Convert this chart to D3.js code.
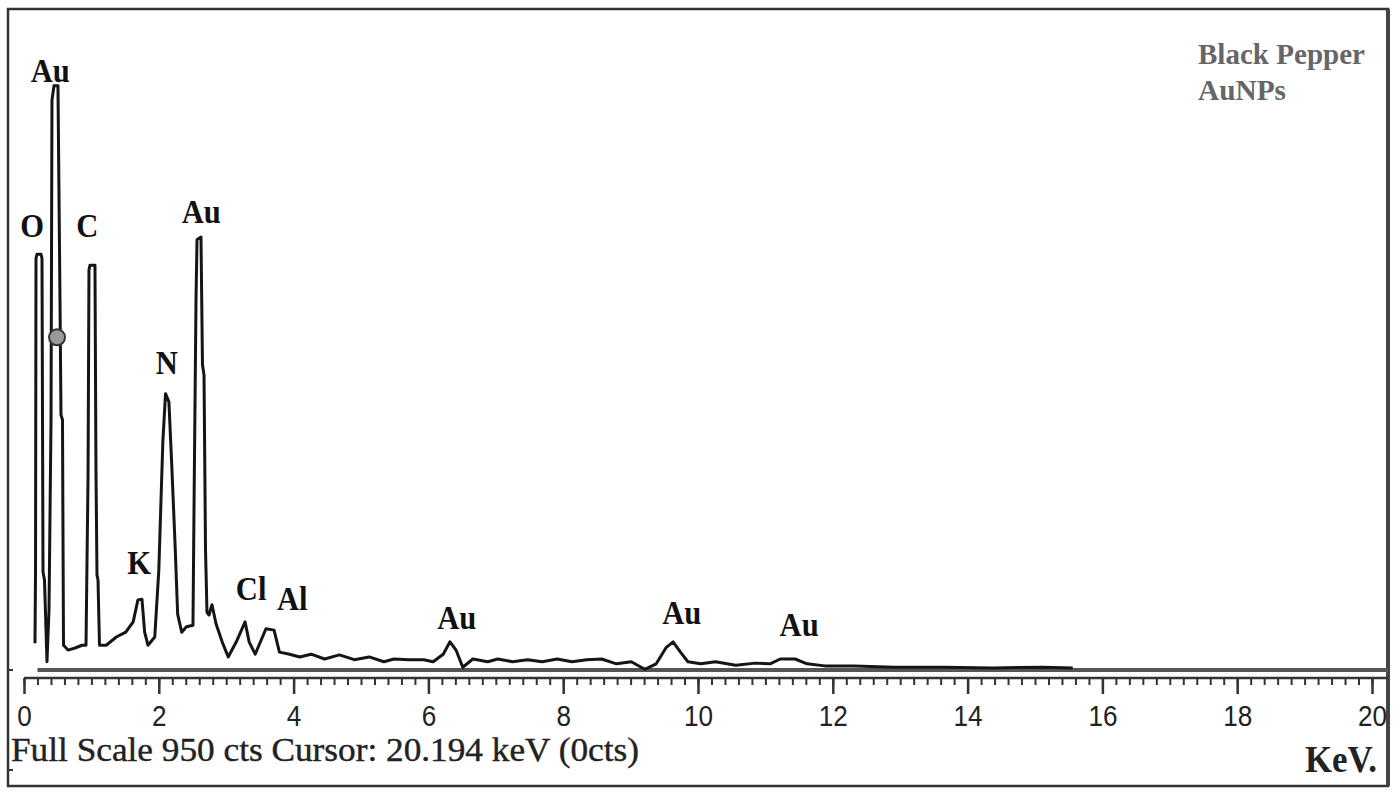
<!DOCTYPE html>
<html lang="en">
<head>
<meta charset="UTF-8">
<title>EDX spectrum - Black Pepper AuNPs</title>
<script src="https://cdn.jsdelivr.net/npm/d3@7"></script>
<style>
    body { margin: 0; background: #fff; }
    svg { display: block; }
    .peak { font-family: "Liberation Serif", "DejaVu Serif", serif; font-weight: bold; fill: #111; }
    .tick text { font-family: "Liberation Sans", Arial, sans-serif; fill: #222; }
</style>
</head>
<body>
<svg width="1400" height="794"></svg>
<script>
    // spectrum: energy (keV) and counts
    var energy = [0.163, 0.171, 0.178, 0.193, 0.252, 0.267, 0.282, 0.304, 0.341,
        0.371, 0.401, 0.415, 0.445, 0.504, 0.534, 0.549, 0.571, 0.586,
        0.653, 0.757, 0.861, 0.92,
        0.935, 0.95, 0.964, 0.979, 1.053, 1.068, 1.083, 1.098, 1.12,
        1.22, 1.37, 1.51, 1.62, 1.69, 1.75, 1.79, 1.84, 1.94,
        2.00, 2.06, 2.10, 2.15, 2.19, 2.24, 2.28, 2.34, 2.41,
        2.507, 2.522, 2.552, 2.567, 2.626, 2.648, 2.671, 2.693, 2.715, 2.745, 2.789,
        2.85, 2.94, 3.03, 3.15, 3.28, 3.34, 3.43, 3.59,
        3.71, 3.79, 3.94, 4.09, 4.26, 4.46, 4.68, 4.90, 5.12, 5.34,
        5.49, 5.71, 5.93, 6.07, 6.22, 6.32, 6.41, 6.51, 6.66, 6.88,
        7.03, 7.25, 7.47, 7.69, 7.91, 8.13, 8.35, 8.57, 8.79, 9.01,
        9.21, 9.38, 9.53, 9.63, 9.74, 9.85, 10.04, 10.26, 10.56, 10.85,
        11.07, 11.22, 11.44, 11.62, 11.88, 12.32, 12.91, 13.65, 14.38, 15.12,
        15.56];
    var counts = [39, 143, 599, 605, 605, 599, 143, 131, 12,
        87, 364, 829, 850, 850, 538, 371, 364, 36,
        29, 32, 36, 36,
        160, 279, 582, 589, 589, 291, 138, 131, 36,
        36, 48, 55, 70, 102, 103, 55, 36, 48,
        145, 332, 402, 390, 303, 186, 81, 55, 63,
        65, 230, 538, 626, 630, 444, 429, 175, 84, 80, 95,
        67, 41, 19, 41, 70, 41, 23, 60,
        58, 26, 23, 19, 23, 16, 22, 15, 19, 12,
        16, 15, 15, 12, 23, 41, 29, 4, 16, 12,
        16, 12, 15, 12, 16, 12, 15, 16, 9, 12,
        1, 9, 33, 41, 26, 12, 9, 12, 7, 10,
        9, 16, 16, 9, 6, 6, 4, 4, 3, 4,
        3];

    // element labels
    var peakNames = ["O", "Au", "C", "K", "N", "Au", "Cl", "Al", "Au", "Au", "Au"];
    var peakKeV = [0.12, 0.39, 0.94, 1.71, 2.12, 2.63, 3.37, 3.98, 6.42, 9.76, 11.5];
    var peakCts = [630, 855, 630, 140, 430, 650, 102, 88, 60, 67, 50];

    var tickValues = [0, 2, 4, 6, 8, 10, 12, 14, 16, 18, 20];
    var sampleName = ["Black Pepper", "AuNPs"];
    var footer = "Full Scale 950 cts Cursor: 20.194 keV (0cts)";

    var svg = d3.select("svg");

    var x = d3.scaleLinear().domain([0, 20]).range([24, 1372]);
    var y = d3.scaleLinear().domain([0, 950]).range([670, 17]);

    // frame
    svg.append("rect")
        .attr("x", 8).attr("y", 9)
        .attr("width", 1380).attr("height", 777)
        .attr("fill", "none")
        .attr("stroke", "#333")
        .attr("stroke-width", 2.5);
    svg.append("line")
        .attr("x1", 1388).attr("x2", 1388)
        .attr("y1", 9).attr("y2", 786)
        .attr("stroke", "#444").attr("stroke-width", 4);
    // small marks on the left edge
    [670, 770].forEach(function (v) {
        svg.append("line")
            .attr("x1", 8).attr("x2", 13)
            .attr("y1", v).attr("y2", v)
            .attr("stroke", "#333").attr("stroke-width", 2);
    });

    // zero line
    svg.append("line")
        .attr("x1", x(0.2)).attr("x2", 1388)
        .attr("y1", y(0)).attr("y2", y(0))
        .attr("stroke", "#555").attr("stroke-width", 4);

    // axis
    var axisG = svg.append("g").attr("transform", "translate(0,678)");
    axisG.call(d3.axisBottom(x).tickValues(d3.range(0, 20.01, 0.2)).tickSize(7).tickFormat(""))
        .call(function (g) { g.select(".domain").remove(); })
        .selectAll("line").attr("stroke", "#333").attr("stroke-width", 2);
    var major = svg.append("g").attr("transform", "translate(0,678)")
        .call(d3.axisBottom(x).tickValues(tickValues).tickSize(16).tickPadding(11).tickSizeOuter(0));
    major.select(".domain").attr("d", "M" + x(0) + ",0H1388").attr("stroke", "#333").attr("stroke-width", 2.5);
    major.selectAll(".tick line").attr("stroke", "#333").attr("stroke-width", 2.5);
    major.selectAll(".tick text")
        .attr("font-size", 29)
        .attr("transform", "scale(0.9,1)");

    // spectrum trace
    var line = d3.line()
        .x(function (d, i) { return x(energy[i]); })
        .y(function (d) { return y(d); });
    svg.append("path")
        .datum(counts)
        .attr("d", line)
        .attr("fill", "none")
        .attr("stroke", "#151515")
        .attr("stroke-width", 3)
        .attr("stroke-linejoin", "round");

    // cursor marker on the main Au peak
    svg.append("circle")
        .attr("cx", x(0.49)).attr("cy", y(484))
        .attr("r", 8)
        .attr("fill", "#999").attr("stroke", "#333").attr("stroke-width", 2);

    // peak labels
    svg.selectAll(".peak")
        .data(peakNames)
        .enter()
        .append("text")
        .attr("class", "peak")
        .attr("text-anchor", "middle")
        .attr("font-size", 34)
        .attr("transform", function (d, i) {
            return "translate(" + x(peakKeV[i]) + "," + y(peakCts[i]) + ") scale(0.9,1)";
        })
        .text(function (d) { return d; });

    // sample name
    svg.selectAll(".sample")
        .data(sampleName)
        .enter()
        .append("text")
        .attr("class", "sample")
        .attr("x", 1198)
        .attr("y", function (d, i) { return 64 + i * 36; })
        .attr("font-family", "Liberation Serif, serif")
        .attr("font-weight", "bold")
        .attr("font-size", 30)
        .attr("fill", "#666")
        .attr("textLength", function (d, i) { return i === 0 ? 167 : 88; })
        .attr("lengthAdjust", "spacingAndGlyphs")
        .text(function (d) { return d; });

    // footer line
    svg.append("text")
        .attr("x", 11).attr("y", 761)
        .attr("font-family", "Liberation Serif, serif")
        .attr("font-size", 33)
        .attr("fill", "#222")
        .attr("stroke", "#222")
        .attr("stroke-width", 0.4)
        .attr("textLength", 628)
        .attr("lengthAdjust", "spacingAndGlyphs")
        .text(footer);

    // unit
    svg.append("text")
        .attr("x", 1305).attr("y", 772)
        .attr("font-family", "Liberation Serif, serif")
        .attr("font-weight", "bold")
        .attr("font-size", 37)
        .attr("fill", "#222")
        .attr("textLength", 72)
        .attr("lengthAdjust", "spacingAndGlyphs")
        .text("KeV.");
</script>
</body>
</html>
